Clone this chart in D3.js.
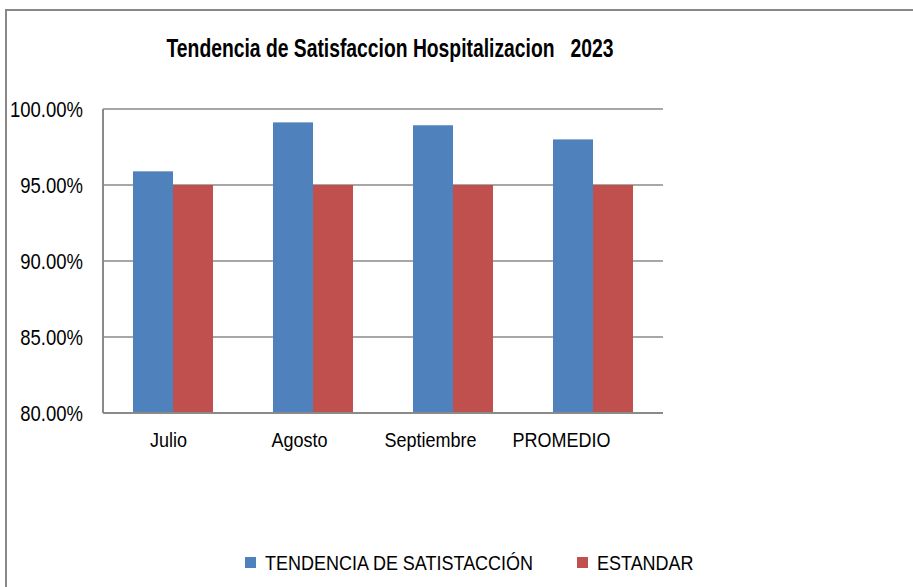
<!DOCTYPE html>
<html>
<head>
<meta charset="utf-8">
<script src="https://cdn.jsdelivr.net/npm/d3@7"></script>
<style>
  body { margin: 0; background: #fff; }
  text { font-family: "Liberation Sans", Arial, sans-serif; fill: #000; }
</style>
</head>
<body>
<svg id="chart" width="913" height="587"></svg>
<script>
const categories = ['Julio', 'Agosto', 'Septiembre', 'PROMEDIO'];
const seriesNames = ['TENDENCIA DE SATISTACCIÓN', 'ESTANDAR'];
const tendencia = [0.959, 0.9912, 0.9893, 0.980];
const estandar = [0.95, 0.95, 0.95, 0.95];
const yTicks = [0.80, 0.85, 0.90, 0.95, 1.00];
const colors = ['#4F81BD', '#C0504D'];

const svg = d3.select('#chart');
const plot = { left: 103, right: 663, top: 109, bottom: 413 };

// text in the picture is a bit stretched vertically
function stretched(g, x, y, sy) {
    return g.append('g').attr('transform', `translate(${x},${y}) scale(1,${sy})`).append('text');
}

// outer frame (only top and left visible)
svg.append('path')
    .attr('d', 'M6,587 V10 H913')
    .attr('fill', 'none')
    .attr('stroke', '#888')
    .attr('stroke-width', 2);

const x0 = d3.scaleBand()
    .domain(categories)
    .range([plot.left, plot.right])
    .paddingInner(60 / 140)
    .paddingOuter(30 / 140);

const x1 = d3.scaleBand()
    .domain(seriesNames)
    .range([0, x0.bandwidth()]);

// labels sit on a slightly tighter spacing than the bars in the picture
const xLabel = d3.scaleBand()
    .domain(categories)
    .range([plot.left, 627]);

const y = d3.scaleLinear()
    .domain([0.80, 1.00])
    .range([plot.bottom, plot.top]);

// gridlines
svg.append('g')
    .selectAll('line')
    .data(yTicks.slice(1))
    .join('line')
    .attr('x1', plot.left)
    .attr('x2', plot.right)
    .attr('y1', d => y(d))
    .attr('y2', d => y(d))
    .attr('stroke', '#8a8a8a')
    .attr('stroke-width', 1.5);

// bars
const rows = categories.map((c, i) => ({ cat: c, values: [tendencia[i], estandar[i]] }));
svg.append('g')
    .selectAll('g')
    .data(rows)
    .join('g')
    .attr('transform', d => `translate(${x0(d.cat)},0)`)
    .selectAll('rect')
    .data(d => d.values.map((v, k) => ({ name: seriesNames[k], v, k })))
    .join('rect')
    .attr('x', d => x1(d.name))
    .attr('width', x1.bandwidth())
    .attr('y', d => y(d.v))
    .attr('height', d => y(0.80) - y(d.v))
    .attr('fill', d => colors[d.k]);

// axes lines
svg.append('line')
    .attr('x1', plot.left).attr('x2', plot.left)
    .attr('y1', plot.top).attr('y2', plot.bottom)
    .attr('stroke', '#8a8a8a').attr('stroke-width', 2);
svg.append('line')
    .attr('x1', plot.left).attr('x2', plot.right)
    .attr('y1', plot.bottom).attr('y2', plot.bottom)
    .attr('stroke', '#8a8a8a').attr('stroke-width', 2);

// y tick labels
const fmt = d3.format('.2%');
yTicks.forEach(t => {
    stretched(svg, 83, y(t) + 7.5, 1.18)
        .attr('text-anchor', 'end')
        .attr('font-size', 18.5)
        .text(fmt(t));
});

// x labels
categories.forEach(c => {
    stretched(svg, xLabel(c) + xLabel.bandwidth() / 2, 447, 1.15)
        .attr('text-anchor', 'middle')
        .attr('font-size', 18)
        .text(c);
});

// title
stretched(svg, 390, 57, 1.25)
    .attr('text-anchor', 'middle')
    .attr('font-size', 20)
    .attr('font-weight', 'bold')
    .style('white-space', 'pre')
    .attr('textLength', 447)
    .attr('lengthAdjust', 'spacingAndGlyphs')
    .text('Tendencia de Satisfaccion Hospitalizacion   2023');

// legend
const legendX = [245, 577];
seriesNames.forEach((name, k) => {
    svg.append('rect')
        .attr('x', legendX[k])
        .attr('y', 557)
        .attr('width', 11)
        .attr('height', 11)
        .attr('fill', colors[k]);
    stretched(svg, legendX[k] + 20, 570, 1.15)
        .attr('font-size', 18)
        .text(name);
});
</script>
</body>
</html>
